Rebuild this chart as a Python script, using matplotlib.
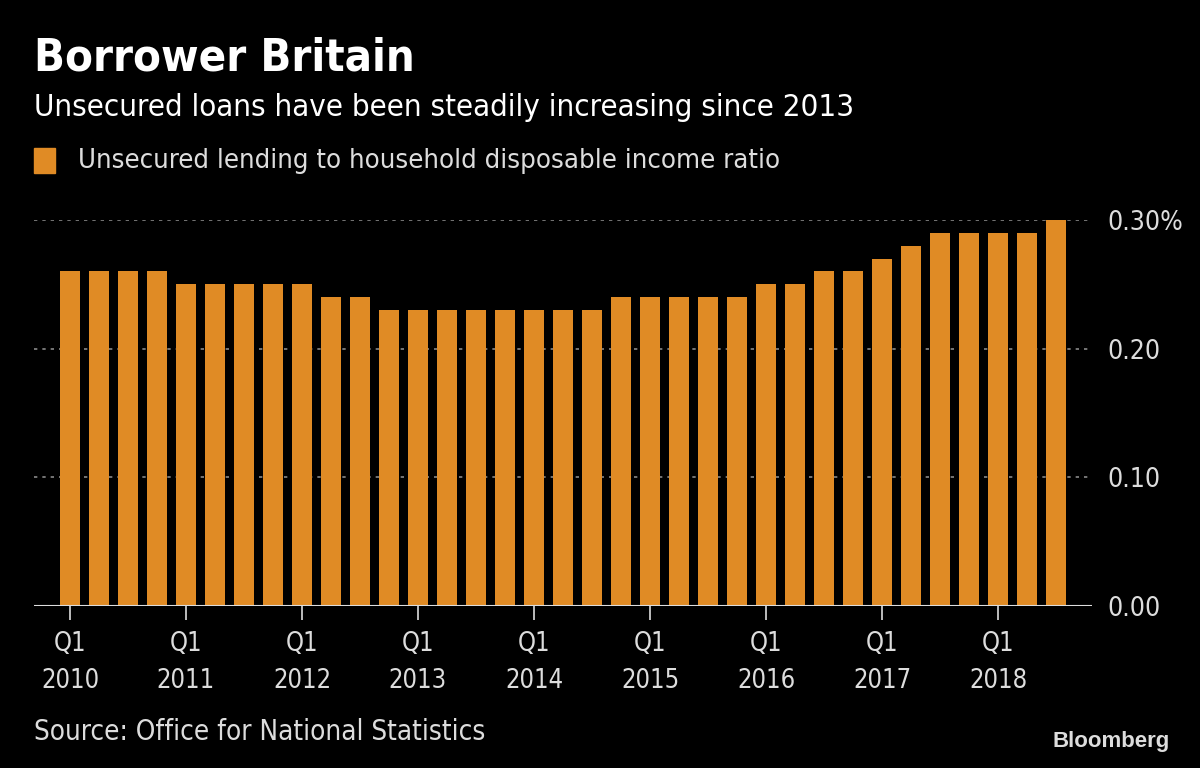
import numpy as np
import matplotlib.pyplot as plt

plt.rcParams['font.family'] = ['DejaVu Sans']
plt.rcParams['font.stretch'] = 'condensed'

# quarterly ratio, Q1 2010 .. Q3 2018
values = [0.26, 0.26, 0.26, 0.26,
          0.25, 0.25, 0.25, 0.25,
          0.25, 0.24, 0.24, 0.23,
          0.23, 0.23, 0.23, 0.23,
          0.23, 0.23, 0.23, 0.24,
          0.24, 0.24, 0.24, 0.24,
          0.25, 0.25, 0.26, 0.26,
          0.27, 0.28, 0.29, 0.29,
          0.29, 0.29, 0.30]
years = [2010, 2011, 2012, 2013, 2014, 2015, 2016, 2017, 2018]
yticks = [0.0, 0.1, 0.2, 0.3]
ytick_labels = ['0.00', '0.10', '0.20', '0.30%']

bar_color = '#E08B25'
text_color = '#DDDDDD'

fig = plt.figure(figsize=(12, 7.68), dpi=100, facecolor='black')
ax = fig.add_axes([34 / 1200, 1 - 606 / 768, (1092 - 34) / 1200, (606 - 220) / 768])
ax.set_facecolor('black')

x = np.arange(len(values))
ax.bar(x, values, width=0.66, color=bar_color, zorder=2)

ax.set_ylim(0, 0.30)
ax.set_xlim(-1.24, len(values) - 1 + 1.24)

for y in yticks[1:]:
    ax.axhline(y, color='#888888', lw=1.2, ls=(0, (2, 3)), zorder=1)
ax.axhline(0, color='#DDDDDD', lw=1.5, zorder=3)

for s in ax.spines.values():
    s.set_visible(False)

ax.yaxis.tick_right()
ax.set_yticks(yticks)
ax.set_yticklabels(ytick_labels)
ax.tick_params(axis='y', length=0, pad=11, labelsize=19, labelcolor=text_color)

ax.set_xticks([4 * i for i in range(len(years))])
ax.set_xticklabels(['Q1\n%d' % yr for yr in years])
ax.tick_params(axis='x', length=10, width=1.2, color=text_color, pad=8,
               labelsize=18.4, labelcolor=text_color)
for lbl in ax.get_xticklabels():
    lbl.set_linespacing(1.55)

fig.text(34 / 1200, 1 - 58 / 768, 'Borrower Britain', color='white', fontsize=32.6,
         fontweight='bold', va='center', ha='left')
fig.text(34 / 1200, 1 - 107 / 768, 'Unsecured loans have been steadily increasing since 2013',
         color='white', fontsize=22.4, va='center', ha='left')
fig.patches.append(plt.Rectangle((34 / 1200, 1 - 173 / 768), 21 / 1200, 25 / 768,
                                 transform=fig.transFigure, color=bar_color))
fig.text(78 / 1200, 1 - 161 / 768, 'Unsecured lending to household disposable income ratio',
         color=text_color, fontsize=19.7, va='center', ha='left')
fig.text(34 / 1200, 1 - 732 / 768, 'Source: Office for National Statistics',
         color=text_color, fontsize=20, va='center', ha='left')
fig.text(1170 / 1200, 1 - 742 / 768, 'Bloomberg', color='#DDDDDD', fontsize=16,
         fontweight='bold', va='center', ha='right', family=['Liberation Sans', 'DejaVu Sans'],
         fontstretch='normal')

fig.savefig('out.png', dpi=100, facecolor='black')
